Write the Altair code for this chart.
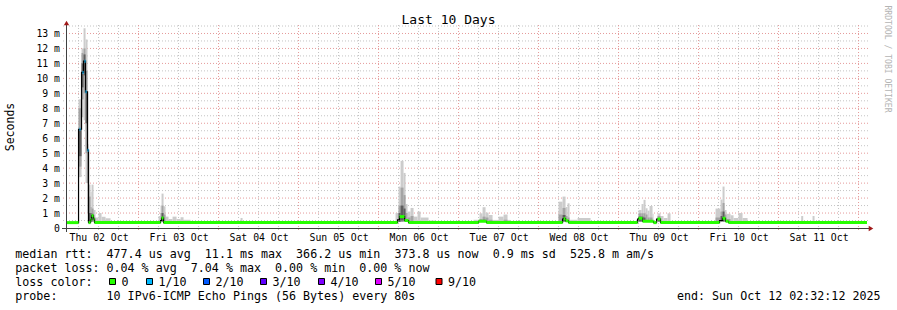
import re
import pandas as pd
import altair as alt

FONT = "DejaVu Sans Mono"
NBSP = "\u00a0"

# ---------------- data ----------------
# time in hours after Thu 02 Oct 2025 00:00
T_START = 2.537   # Thu 02 Oct 02:32:12
T_END = 242.537   # Sun 12 Oct 02:32:12

day_labels = ["Thu 02 Oct", "Fri 03 Oct", "Sat 04 Oct", "Sun 05 Oct", "Mon 06 Oct",
              "Tue 07 Oct", "Wed 08 Oct", "Thu 09 Oct", "Fri 10 Oct", "Sat 11 Oct"]
day_label_hours = [12, 36, 60, 84, 108, 132, 156, 180, 204, 228]
y_tick_values = list(range(14))

# median rtt (ms) change points, with loss class (None = no loss colour block)
med_t = [T_START, 6.0, 6.3, 6.6, 6.9, 7.2, 7.5, 7.8, 8.1, 8.4, 8.7, 9.0, 9.6, 9.9, 10.5, 10.8,
         30.6, 30.9, 31.5,
         101.7, 102.3, 103.8, 105.0,
         126.0, 128.4,
         151.2, 151.5, 152.1, 153.0,
         173.7, 174.0, 175.2, 178.5, 179.4, 179.7, 180.6,
         198.3, 199.2, 200.1, 201.0]
med_v = [0.36, 6.6, 6.6, 6.6, 10.4, 10.4, 11.15, 11.15, 9.1, 9.1, 5.2, 0.36, 0.55, 0.82, 0.6, 0.36,
         0.5, 0.67, 0.36,
         0.55, 0.76, 0.5, 0.36,
         0.45, 0.36,
         0.6, 0.62, 0.48, 0.36,
         0.6, 0.65, 0.45, 0.36, 0.6, 0.6, 0.36,
         0.5, 0.65, 0.45, 0.36]
med_loss = ["0", None, "1/10", None, None, "1/10", None, "1/10", "1/10", None, "1/10", "0", "0", "0", "0", "0",
            None, "0", "0",
            None, "0", "0", "0",
            "0", "0",
            None, "0", "0", "0",
            None, "0", "0", "0", None, "0", "0",
            None, "0", "0", "0"]

# smoke bands: (t0, t1, low ms, high ms, shade 1=light .. 3=dark)
smoke_thu02 = [
    (6.0, 6.9, 3.4, 8.6, 1), (6.0, 6.9, 4.1, 8.0, 2), (6.0, 6.9, 4.8, 6.6, 3),
    (6.9, 7.5, 7.4, 12.0, 1), (6.9, 7.5, 8.6, 11.7, 2), (6.9, 7.5, 9.4, 11.0, 3),
    (7.5, 8.1, 7.2, 13.35, 1), (7.5, 8.1, 9.0, 12.0, 2), (7.5, 8.1, 10.2, 11.6, 3),
    (8.1, 8.7, 3.0, 12.6, 1), (8.1, 8.7, 5.0, 10.5, 2), (8.1, 8.7, 7.0, 9.1, 3),
    (8.7, 9.0, 0.4, 5.6, 1), (8.7, 9.0, 1.0, 5.2, 2), (8.7, 9.0, 3.0, 5.2, 3),
    (9.0, 9.6, 0.4, 2.9, 1), (9.0, 9.6, 0.4, 2.1, 2), (9.0, 9.6, 0.4, 1.0, 3),
    (9.6, 9.9, 0.4, 2.4, 1), (9.6, 9.9, 0.4, 1.4, 2), (9.6, 9.9, 0.4, 1.0, 3),
    (9.9, 10.5, 0.4, 2.9, 1), (9.9, 10.5, 0.4, 1.3, 2), (9.9, 10.5, 0.5, 0.95, 3),
    (10.5, 11.1, 0.4, 1.2, 1), (10.5, 11.1, 0.4, 0.7, 2),
    (11.1, 12.0, 0.4, 0.7, 1),
    (12.0, 12.9, 0.4, 1.0, 1),
    (12.9, 14.1, 0.4, 0.75, 1),
    (14.1, 15.6, 0.4, 0.65, 1),
]
smoke_fri03 = [
    (30.0, 30.6, 0.4, 0.8, 1),
    (30.6, 30.9, 0.4, 1.5, 1), (30.6, 30.9, 0.4, 1.0, 2),
    (30.9, 31.5, 0.4, 2.3, 1), (30.9, 31.5, 0.4, 1.5, 2), (30.9, 31.5, 0.45, 1.0, 3),
    (31.5, 32.1, 0.4, 1.45, 1), (31.5, 32.1, 0.4, 0.9, 2),
    (32.1, 33.0, 0.4, 0.76, 1),
    (33.0, 34.2, 0.4, 0.6, 1),
    (34.2, 35.4, 0.4, 0.76, 1),
    (35.4, 36.6, 0.4, 0.6, 1),
    (36.6, 37.5, 0.4, 0.72, 1),
    (37.5, 39.6, 0.4, 0.55, 1),
]
smoke_sat04 = [(54.6, 55.2, 0.4, 0.67, 1)]
smoke_mon06 = [
    (101.1, 102.0, 0.4, 1.0, 1),
    (102.0, 102.6, 0.4, 2.77, 1), (102.0, 102.6, 0.4, 1.5, 2), (102.0, 102.6, 0.4, 1.0, 3),
    (102.6, 103.5, 0.4, 4.49, 1), (102.6, 103.5, 0.4, 2.7, 2), (102.6, 103.5, 0.5, 1.5, 3),
    (103.5, 104.1, 0.4, 3.68, 1), (103.5, 104.1, 0.4, 2.2, 2), (103.5, 104.1, 0.5, 1.3, 3),
    (104.1, 104.7, 0.4, 1.6, 1), (104.1, 104.7, 0.4, 1.0, 2),
    (104.7, 105.6, 0.4, 1.1, 1), (104.7, 105.6, 0.4, 0.7, 2),
    (105.6, 106.5, 0.4, 1.34, 1), (105.6, 106.5, 0.4, 0.8, 2),
    (106.5, 107.7, 0.4, 0.76, 1),
    (107.7, 108.6, 0.4, 1.1, 1),
    (108.6, 111.0, 0.4, 0.7, 1),
    (111.0, 113.0, 0.4, 0.5, 1),
]
smoke_tue07 = [
    (124.5, 126.3, 0.4, 0.55, 1),
    (126.3, 127.2, 0.4, 0.98, 1), (126.3, 127.2, 0.4, 0.6, 2),
    (127.2, 128.1, 0.4, 1.39, 1), (127.2, 128.1, 0.4, 0.76, 2), (127.2, 128.1, 0.4, 0.55, 3),
    (128.1, 129.0, 0.4, 1.03, 1), (128.1, 129.0, 0.4, 0.7, 2),
    (129.0, 130.2, 0.4, 0.87, 1), (129.0, 130.2, 0.4, 0.55, 2),
    (130.2, 132.0, 0.4, 0.54, 1),
    (132.0, 133.5, 0.4, 0.76, 1),
    (133.5, 134.7, 0.4, 0.9, 1), (133.5, 134.7, 0.4, 0.55, 2),
    (134.7, 135.6, 0.4, 0.54, 1),
]
smoke_wed08 = [
    (150.0, 151.2, 0.4, 1.76, 1), (150.0, 151.2, 0.4, 0.9, 2),
    (151.2, 152.1, 0.4, 2.1, 1), (151.2, 152.1, 0.4, 1.34, 2), (151.2, 152.1, 0.45, 0.87, 3),
    (152.1, 152.7, 0.4, 1.4, 1), (152.1, 152.7, 0.4, 0.8, 2),
    (152.7, 153.3, 0.4, 1.65, 1), (152.7, 153.3, 0.4, 0.7, 2),
    (153.3, 155.7, 0.4, 0.55, 1),
    (155.7, 159.6, 0.4, 0.67, 1),
]
smoke_thu09 = [
    (174.0, 174.9, 0.4, 1.2, 1), (174.0, 174.9, 0.4, 0.98, 2), (174.0, 174.9, 0.45, 0.76, 3),
    (174.9, 175.5, 0.4, 1.6, 1), (174.9, 175.5, 0.4, 0.98, 2), (174.9, 175.5, 0.45, 0.76, 3),
    (175.5, 176.1, 0.4, 1.88, 1), (175.5, 176.1, 0.4, 0.98, 2), (175.5, 176.1, 0.45, 0.7, 3),
    (176.1, 176.7, 0.4, 1.32, 1), (176.1, 176.7, 0.4, 0.9, 2),
    (176.7, 177.3, 0.4, 1.16, 1), (176.7, 177.3, 0.4, 0.7, 2),
    (177.3, 178.2, 0.4, 1.47, 1), (177.3, 178.2, 0.4, 0.7, 2),
    (178.2, 178.5, 0.4, 0.95, 1),
    (179.7, 180.6, 0.4, 0.98, 1), (179.7, 180.6, 0.4, 0.8, 2), (179.7, 180.6, 0.45, 0.65, 3),
    (180.6, 181.5, 0.4, 0.8, 1),
    (181.5, 182.7, 0.4, 0.67, 1),
    (182.7, 183.6, 0.4, 0.98, 1),
    (188.7, 189.0, 0.4, 0.5, 1),
]
smoke_fri10 = [
    (197.1, 198.6, 0.4, 1.3, 1), (197.1, 198.6, 0.4, 0.7, 2),
    (198.6, 199.2, 0.4, 1.9, 1), (198.6, 199.2, 0.4, 1.1, 2), (198.6, 199.2, 0.45, 0.8, 3),
    (199.2, 199.8, 0.4, 2.77, 1), (199.2, 199.8, 0.4, 1.67, 2), (199.2, 199.8, 0.45, 1.1, 3),
    (199.8, 200.4, 0.4, 1.2, 1), (199.8, 200.4, 0.4, 0.9, 2),
    (200.4, 201.6, 0.4, 0.95, 1), (200.4, 201.6, 0.4, 0.6, 2),
    (201.6, 202.5, 0.4, 0.85, 1),
    (202.5, 204.0, 0.4, 0.67, 1),
    (204.0, 205.2, 0.4, 1.0, 1),
    (205.2, 206.7, 0.4, 0.67, 1),
]
smoke_sat11 = [(222.8, 223.4, 0.4, 0.8, 1), (226.2, 226.8, 0.4, 0.8, 1)]

loss_names = ["0", "1/10", "2/10", "3/10", "4/10", "5/10", "9/10"]
loss_colors = ["#26ff00", "#00b8ff", "#0059ff", "#5e00ff", "#7e00ff", "#dd00ff", "#ff0000"]

title_text = "Last 10 Days"
y_title = "Seconds"
side_text = "RRDTOOL / TOBI OETIKER"
row_median = "median rtt:  477.4 us avg  11.1 ms max  366.2 us min  373.8 us now  0.9 ms sd  525.8 m am/s"
row_loss = "packet loss: 0.04 % avg  7.04 % max  0.00 % min  0.00 % now"
row_color = "loss color:"
row_probe = "probe:       10 IPv6-ICMP Echo Pings (56 Bytes) every 80s"
end_text = "end: Sun Oct 12 02:32:12 2025"

# ---------------- layout ----------------
PL, PT = 67, 26          # plot origin in page pixels
W, H = 800, 202
SHADES = {1: "#cccccc", 2: "#a4a4a4", 3: "#5e5e5e"}
GRID_MINOR = "#c4c4c4"
GRID_MAJOR = "#e59a9a"
ARROW = "#a01818"

XS = alt.Scale(domain=[T_START, T_END], nice=False, zero=False)
YS = alt.Scale(domain=[0, 13.5], nice=False, zero=False)

lbl_arr = "[" + ",".join("'%s'" % s for s in day_labels) + "]"
X_AXIS = alt.Axis(values=day_label_hours, labelExpr=lbl_arr + "[round((datum.value - 12) / 24)]",
                  title=None, domain=False, ticks=False, tickSize=0, grid=False,
                  labelFont=FONT, labelFontSize=9.8, labelColor="black", labelPadding=4.7,
                  labelAngle=0, labelAlign="center", labelFlush=False, labelOverlap=False)
Y_AXIS = alt.Axis(values=y_tick_values,
                  labelExpr="datum.value == 0 ? '0" + NBSP + NBSP + "' : datum.value + ' m'",
                  title=None, domain=False, ticks=False, tickSize=0, grid=False,
                  labelFont=FONT, labelFontSize=9.8, labelColor="black", labelPadding=7.5,
                  labelFlush=False, labelOverlap=False)

X = lambda f: alt.X(f, type="quantitative", scale=XS, axis=X_AXIS)
Y = lambda f: alt.Y(f, type="quantitative", scale=YS, axis=Y_AXIS)

layers = []

# grid
v_minor = pd.DataFrame({"t": [h for h in range(6, 243, 6) if h % 24 != 0]})
v_major = pd.DataFrame({"t": list(range(24, 243, 24))})
h_minor = pd.DataFrame({"v": [i + 0.5 for i in range(14)]})
h_major = pd.DataFrame({"v": list(range(1, 14))})
layers.append(alt.Chart(h_minor).mark_rule(color=GRID_MINOR, strokeDash=[1, 2], strokeWidth=1)
              .encode(y=Y("v"), x=alt.value(-4), x2=alt.value(W + 2)))
layers.append(alt.Chart(v_minor).mark_rule(color=GRID_MINOR, strokeDash=[1, 2], strokeWidth=1)
              .encode(x=X("t"), y=alt.value(-1), y2=alt.value(H + 3)))
layers.append(alt.Chart(h_major).mark_rule(color=GRID_MAJOR, strokeDash=[1, 2], strokeWidth=1)
              .encode(y=Y("v"), x=alt.value(-4), x2=alt.value(W + 2)))
layers.append(alt.Chart(v_major).mark_rule(color=GRID_MAJOR, strokeDash=[1, 2], strokeWidth=1)
              .encode(x=X("t"), y=alt.value(-1), y2=alt.value(H + 3)))

# smoke
smoke_rows = (smoke_thu02 + smoke_fri03 + smoke_sat04 + smoke_mon06 + smoke_tue07 +
              smoke_wed08 + smoke_thu09 + smoke_fri10 + smoke_sat11)
smoke = pd.DataFrame(smoke_rows, columns=["t0", "t1", "lo", "hi", "shade"])
for s in (1, 2, 3):
    layers.append(alt.Chart(smoke[smoke["shade"] == s]).mark_rect(color=SHADES[s])
                  .encode(x=X("t0"), x2="t1", y=Y("lo"), y2="hi"))

# median line (black step) and loss-coloured blocks
line_df = pd.DataFrame({"t": med_t + [T_END], "v": med_v + [med_v[-1]]})
layers.append(alt.Chart(line_df).mark_line(color="black", strokeWidth=1.2, interpolate="step-after")
              .encode(x=X("t"), y=Y("v")))
seg = pd.DataFrame({"t0": med_t, "t1": med_t[1:] + [T_END], "v": med_v, "loss": med_loss})
seg = seg[seg["loss"].notna()]
layers.append(alt.Chart(seg).mark_rule(strokeWidth=3)
              .encode(x=X("t0"), x2="t1", y=Y("v"),
                      color=alt.Color("loss:N", scale=alt.Scale(domain=loss_names, range=loss_colors),
                                      legend=None)))

one = alt.Data(values=[{}])

# axes lines and arrows
layers.append(alt.Chart(one).mark_rule(color="#404040", strokeWidth=1)
              .encode(x=alt.value(-5), x2=alt.value(W + 3), y=alt.value(H + 0.5)))
layers.append(alt.Chart(one).mark_rule(color="#404040", strokeWidth=1)
              .encode(x=alt.value(-0.5), y=alt.value(-3), y2=alt.value(H + 4)))
layers.append(alt.Chart(one).mark_point(shape="triangle-right", filled=True, size=28, color=ARROW, opacity=1)
              .encode(x=alt.value(W + 4), y=alt.value(H + 0.5)))
layers.append(alt.Chart(one).mark_point(shape="triangle-up", filled=True, size=28, color=ARROW, opacity=1)
              .encode(x=alt.value(-0.5), y=alt.value(-3)))


def txt(s, px, py, size=11.66, align="left", baseline="alphabetic", angle=0, color="black"):
    return (alt.Chart(one)
            .mark_text(text=s, font=FONT, fontSize=size, align=align, baseline=baseline,
                       angle=angle, color=color)
            .encode(x=alt.value(px - PL), y=alt.value(py - PT)))


layers.append(txt(title_text, 448.5, 23.7, size=13, align="center"))
layers.append(txt(y_title, 11, 127, size=11.5, align="center", baseline="middle", angle=270))
layers.append(txt(side_text, 887, 59, size=8.1, align="center", baseline="middle", angle=90, color="#b4b4b4"))

CH = 7.02
X0 = 15.3
for row, by in ((row_median, 257.5), (row_loss, 271.5), (row_probe, 299.5)):
    for m in re.finditer(r"\S+(?: \S+)*", row):
        layers.append(txt(m.group(0), X0 + m.start() * CH, by))
layers.append(txt(row_color, X0, 285.5))
layers.append(txt(end_text, 880.5, 299.5, align="right"))

sq_left = [109, 146, 203, 260, 318, 375, 435.5]
for name, col, sx in zip(loss_names, loss_colors, sq_left):
    layers.append(alt.Chart(one).mark_rect(fill=col, stroke="black", strokeWidth=1)
                  .encode(x=alt.value(sx + 0.5 - PL), x2=alt.value(sx + 6.5 - PL),
                          y=alt.value(278.5 - PT), y2=alt.value(284.5 - PT)))
    layers.append(txt(name, sx + 12.5, 285.5))

chart = (alt.layer(*layers)
         .properties(width=W, height=H, background="white",
                     padding={"left": PL, "top": PT, "right": 897 - PL - W, "bottom": 310 - PT - H},
                     autosize=alt.AutoSizeParams(type="none"))
         .configure_view(stroke=None))

chart.save("out.html", embed_options={"renderer": "svg", "actions": False})
